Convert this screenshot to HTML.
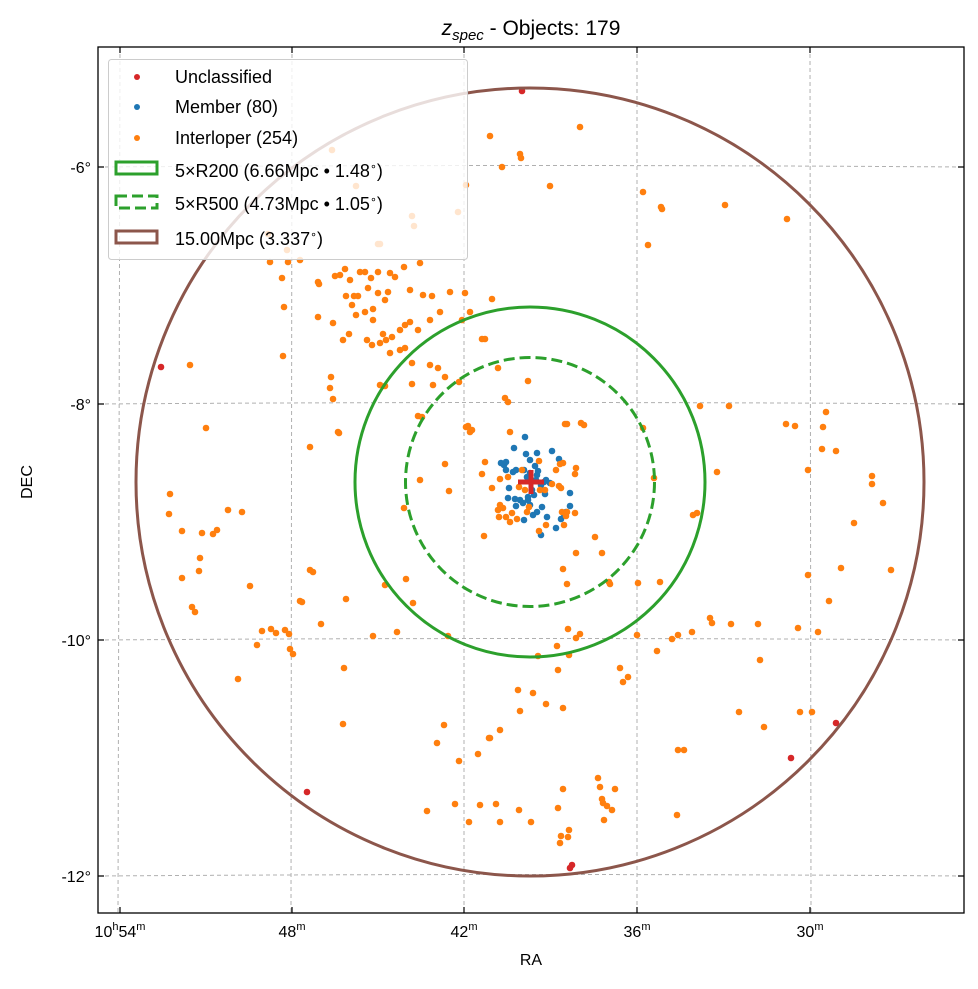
<!DOCTYPE html>
<html><head><meta charset="utf-8"><style>
html,body{margin:0;padding:0;background:#fff;}
svg{display:block;font-family:"Liberation Sans","DejaVu Sans",sans-serif;}
</style></head><body>
<svg id="s" width="978" height="989" viewBox="0 0 978 989" xmlns="http://www.w3.org/2000/svg">
<rect width="978" height="989" fill="#fff"/>
<text x="531" y="35" font-size="21" text-anchor="middle"><tspan font-style="italic">z</tspan><tspan font-style="italic" font-size="15" dy="5">spec</tspan><tspan dy="-5"> - Objects: 179</tspan></text>
<g stroke="#b0b0b0" stroke-width="1" stroke-dasharray="4,3" fill="none">
<path d="M120 47 L118 913"/><path d="M292 47 L291 913"/><path d="M464 47 L464 913"/><path d="M637 47 L637 913"/><path d="M810 47 L811 913"/>
<path d="M98 167 Q531 164 964 167"/><path d="M98 404 Q531 401 964 404"/><path d="M98 640 Q531 637 964 640"/><path d="M98 876 Q531 873 964 876"/>
</g>
<g id="pts"></g>
<circle cx="530" cy="482" r="394" fill="none" stroke="#8c564b" stroke-width="3"/>
<circle cx="530" cy="482" r="175" fill="none" stroke="#2ca02c" stroke-width="3"/>
<circle cx="530" cy="482" r="124.5" fill="none" stroke="#2ca02c" stroke-width="3" stroke-dasharray="11,5"/>
<path d="M518 482 H544 M531 470 V494" stroke="#d62728" stroke-width="5"/>
<rect x="98" y="47" width="866" height="866" fill="none" stroke="#000" stroke-width="1.3"/>
<g stroke="#000" stroke-width="1.2">
<path d="M120 913v-6M292 913v-6M464 913v-6M637 913v-6M810 913v-6M120 47v6M292 47v6M464 47v6M637 47v6M810 47v6"/>
<path d="M98 167h6M98 404h6M98 640h6M98 876h6M964 167h-6M964 404h-6M964 640h-6M964 876h-6"/>
</g>
<g font-size="16" text-anchor="middle">
<text x="120" y="937">10<tspan font-size="11" dy="-7">h</tspan><tspan dy="7">54</tspan><tspan font-size="11" dy="-7">m</tspan></text>
<text x="292" y="937">48<tspan font-size="11" dy="-7">m</tspan></text>
<text x="464" y="937">42<tspan font-size="11" dy="-7">m</tspan></text>
<text x="637" y="937">36<tspan font-size="11" dy="-7">m</tspan></text>
<text x="810" y="937">30<tspan font-size="11" dy="-7">m</tspan></text>
<text x="531" y="965">RA</text>
<text transform="translate(32,482) rotate(-90)">DEC</text>
</g>
<g font-size="16" text-anchor="end">
<text x="91" y="173">-6°</text><text x="91" y="410">-8°</text><text x="91" y="646">-10°</text><text x="91" y="882">-12°</text>
</g>
<rect x="108.5" y="59.5" width="359" height="200" rx="3" fill="#fff" fill-opacity="0.8" stroke="#ccc"/>
<g font-size="18">
<circle cx="137" cy="77" r="3" fill="#d62728"/><text x="175" y="83">Unclassified</text>
<circle cx="137" cy="107" r="3" fill="#1f77b4"/><text x="175" y="113">Member (80)</text>
<circle cx="137" cy="138" r="3" fill="#ff7f0e"/><text x="175" y="144">Interloper (254)</text>
<rect x="116" y="162" width="41" height="12" fill="none" stroke="#2ca02c" stroke-width="3"/><text x="175" y="177">5×R200 (6.66Mpc • 1.48<tspan font-size="11" dy="-7">∘</tspan><tspan dy="7">)</tspan></text>
<rect x="116" y="196" width="41" height="12" fill="none" stroke="#2ca02c" stroke-width="3" stroke-dasharray="11,5"/><text x="175" y="210">5×R500 (4.73Mpc • 1.05<tspan font-size="11" dy="-7">∘</tspan><tspan dy="7">)</tspan></text>
<rect x="116" y="231" width="41" height="12" fill="none" stroke="#8c564b" stroke-width="3"/><text x="175" y="245">15.00Mpc (3.337<tspan font-size="11" dy="-7">∘</tspan><tspan dy="7">)</tspan></text>
</g>
</svg>
<script>
var O=[[490,136],[580,127],[521,158],[520,154],[502,167],[550,186],[466,185],[643,192],[661,207],[662,209],[725,205],[787,219],[648,245],[458,212],[332,150],[356,186],[412,216],[414,226],[380,244],[378,244],[270,262],[268,234],[288,262],[287,250],[300,260],[318,282],[335,276],[340,275],[350,280],[360,272],[365,272],[371,278],[378,272],[390,273],[395,277],[404,267],[420,263],[282,278],[319,284],[345,269],[354,296],[373,309],[385,300],[388,292],[368,288],[410,290],[432,296],[423,295],[346,296],[352,305],[358,296],[378,293],[284,307],[318,317],[333,323],[343,340],[349,334],[356,315],[365,312],[373,320],[383,334],[386,340],[392,337],[400,330],[405,325],[410,322],[418,330],[430,320],[440,312],[462,320],[470,312],[450,292],[465,293],[492,299],[283,356],[331,377],[330,388],[333,399],[338,432],[367,340],[372,345],[380,343],[390,353],[400,350],[405,348],[412,363],[430,365],[438,368],[445,377],[412,384],[380,385],[385,386],[433,385],[459,382],[482,339],[485,339],[498,368],[190,365],[206,428],[199,571],[170,494],[169,514],[182,531],[200,558],[182,578],[192,607],[195,612],[202,533],[213,534],[217,530],[228,510],[242,512],[250,586],[238,679],[257,645],[262,631],[271,629],[276,633],[285,630],[289,634],[290,649],[293,654],[300,601],[302,602],[310,570],[313,572],[321,624],[346,599],[344,668],[343,724],[339,433],[310,447],[418,416],[422,417],[466,427],[470,432],[445,464],[449,491],[404,508],[420,480],[406,579],[385,585],[373,636],[397,632],[448,636],[413,603],[484,536],[505,398],[508,402],[528,381],[567,424],[584,425],[643,428],[700,406],[717,472],[693,515],[697,513],[595,537],[563,569],[567,584],[610,584],[654,478],[609,582],[660,582],[638,583],[568,629],[576,638],[580,634],[538,656],[557,646],[558,670],[569,655],[563,708],[546,704],[533,693],[518,690],[500,730],[489,738],[520,711],[444,725],[437,743],[459,761],[490,738],[478,754],[427,811],[455,804],[469,822],[480,805],[496,804],[500,822],[519,810],[531,822],[558,808],[563,789],[560,843],[561,836],[568,837],[569,830],[598,778],[600,787],[602,799],[603,803],[607,806],[604,820],[612,810],[615,789],[628,677],[657,651],[672,639],[678,635],[692,632],[712,623],[731,624],[758,624],[760,660],[798,628],[739,712],[764,727],[678,750],[684,750],[677,815],[808,470],[823,427],[836,451],[808,575],[841,568],[829,601],[854,523],[872,476],[883,503],[891,570],[795,426],[822,449],[826,412],[872,484],[786,424],[818,632],[800,712],[812,712],[729,406],[637,635],[602,553],[576,553],[620,668],[623,682],[710,618],
[468,426],[472,430],[510,432],[565,424],[581,423],[485,462],[482,474],[492,488],[500,479],[508,477],[522,470],[539,461],[556,470],[560,464],[563,463],[576,468],[575,474],[552,484],[559,486],[561,488],[540,490],[545,490],[500,505],[498,510],[499,517],[503,508],[506,517],[512,513],[510,522],[517,519],[527,512],[529,507],[539,531],[546,525],[562,512],[566,516],[564,525],[567,512],[575,513],[519,487],[525,490]];
var B=[[525,437],[514,448],[501,463],[526,454],[530,460],[537,453],[552,451],[559,459],[504,465],[506,470],[506,462],[516,470],[524,470],[513,472],[530,473],[535,466],[537,475],[532,490],[534,495],[528,497],[545,494],[570,493],[570,506],[561,519],[566,512],[556,528],[541,535],[524,520],[515,499],[509,488],[508,498],[520,500],[523,503],[516,506],[537,512],[530,505],[542,507],[547,517],[564,514],[533,515],[528,500],[544,482],[538,471],[527,477],[536,480],[541,485],[546,480],[550,483]];
var R=[[522,91],[161,367],[307,792],[836,723],[791,758],[570,868],[572,865]];
var g=document.getElementById('pts'),h='';
function add(a,c){a.forEach(function(p){h+='<circle cx="'+p[0]+'" cy="'+p[1]+'" r="3.3" fill="'+c+'"/>';});}
add(B,'#1f77b4');add(O,'#ff7f0e');add(R,'#d62728');
g.innerHTML=h;
</script>
</body></html>
